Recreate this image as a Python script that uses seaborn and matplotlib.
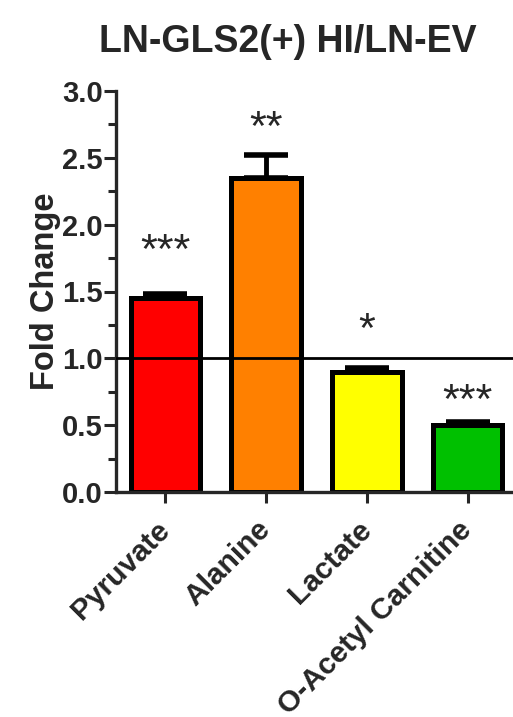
import matplotlib
matplotlib.use("Agg")
import matplotlib.pyplot as plt
import seaborn as sns
import pandas as pd
from matplotlib.ticker import MultipleLocator

categories = ["Pyruvate", "Alanine", "Lactate", "O-Acetyl Carnitine"]
fold_change = [1.45, 2.35, 0.90, 0.50]
sem_upper = [0.03, 0.17, 0.025, 0.02]
stars = ["***", "**", "*", "***"]
star_y = [1.71, 2.63, 1.12, 0.59]
colors = ["#FF0000", "#FF8000", "#FFFF00", "#00C000"]
yticks = [0.0, 0.5, 1.0, 1.5, 2.0, 2.5, 3.0]

sns.set_style("ticks")
plt.rcParams["font.family"] = ["Liberation Sans", "DejaVu Sans"]

df = pd.DataFrame({"cat": categories, "val": fold_change})

fig = plt.figure(figsize=(5.13, 7.17), dpi=100)
ax = fig.add_axes([116/513, 1-492/717, (513-116)/513, (492-91)/717])

sns.barplot(data=df, x="cat", y="val", hue="cat", palette=colors, legend=False,
            saturation=1, errorbar=None, width=0.69, edgecolor="black",
            linewidth=3.6, ax=ax, zorder=2)

ax.errorbar(range(len(categories)), fold_change, yerr=[[0]*4, sem_upper], fmt="none",
            ecolor="black", elinewidth=3.5, capsize=16, capthick=4, zorder=3)

ax.axhline(1.0, color="black", linewidth=2, zorder=4)

for i, (s, y) in enumerate(zip(stars, star_y)):
    ax.text(i, y, s, ha="center", va="baseline", fontsize=31, fontweight="normal")

ax.set_xlim(-0.49, 3.45)
ax.set_ylim(0, 3.0)
ax.set_yticks(yticks)
ax.set_yticklabels([f"{t:.1f}" for t in yticks], fontsize=21, fontweight="bold")
ax.yaxis.set_minor_locator(MultipleLocator(0.25))
ax.set_xticks(range(len(categories)))
ax.set_xticklabels(categories, rotation=45, ha="right", va="center",
                   rotation_mode="anchor", fontsize=21.5, fontweight="bold")
ax.set_xlabel("")
ax.set_ylabel("Fold Change", fontsize=23.5, fontweight="bold", labelpad=1)

for sp in ["top", "right"]:
    ax.spines[sp].set_visible(False)
for sp in ["left", "bottom"]:
    ax.spines[sp].set_linewidth(2.4)
ax.tick_params(axis="y", which="major", length=9, width=2.2, pad=0.5)
ax.tick_params(axis="y", which="minor", length=6, width=2.2)
ax.tick_params(axis="x", which="major", length=8, width=2.2, pad=16)

fig.text(288/513, 1-42/717, "LN-GLS2(+) HI/LN-EV", ha="center", va="center",
         fontsize=27, fontweight="bold")

fig.savefig("out.png", dpi=100)
